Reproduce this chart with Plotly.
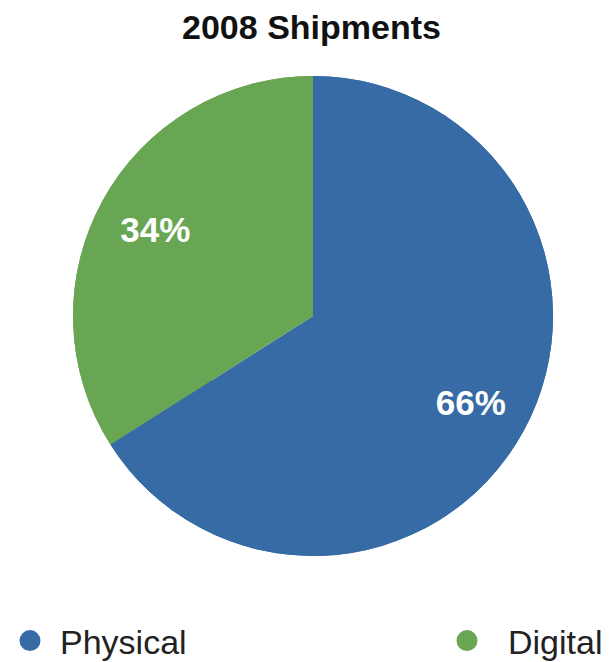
import plotly.graph_objects as go

labels = ["Physical", "Digital"]
values = [66, 34]
colors = ["#376ba6", "#68a653"]
title_text = "2008 Shipments"
FONT = "Liberation Sans, Arial, sans-serif"

fig = go.Figure()
# full pie (no text)
fig.add_trace(go.Pie(
    labels=labels, values=values, sort=False, direction="clockwise", rotation=0,
    marker=dict(colors=colors, line=dict(width=0)),
    textinfo="none", showlegend=False, hoverinfo="skip",
))
# ring on top carries the labels at ~3/4 radius
fig.add_trace(go.Pie(
    labels=labels, values=values, sort=False, direction="clockwise", rotation=0,
    hole=0.5,
    marker=dict(colors=colors, line=dict(width=0)),
    texttemplate="%{percent:.0%}",
    textposition="inside",
    insidetextorientation="horizontal",
    textfont=dict(family=FONT, size=35, color="white", weight="bold"),
    showlegend=False,
    hoverinfo="label+percent",
))
legend_names = ["legend", "legend2"]
for lab, col, lg in zip(labels, colors, legend_names):
    fig.add_trace(go.Scatter(
        x=[None], y=[None], mode="markers", name=lab, legend=lg,
        marker=dict(symbol="circle", size=16, color=col, line=dict(width=5, color=col)),
        showlegend=True,
    ))

legend_common = dict(orientation="h", xref="container", yref="container",
                     yanchor="middle", xanchor="left",
                     font=dict(family=FONT, size=34, color="#222222"),
                     bgcolor="rgba(0,0,0,0)")
fig.update_layout(
    width=610, height=662,
    paper_bgcolor="white", plot_bgcolor="white",
    margin=dict(l=73, r=57, t=76, b=106, autoexpand=False),
    title=dict(text=title_text, x=311.5 / 610, xref="container", y=1 - 27 / 662, yref="container",
               xanchor="center", yanchor="middle",
               font=dict(family=FONT, size=34, color="#111111", weight="bold")),
    xaxis=dict(visible=False), yaxis=dict(visible=False),
    legend=dict(x=0, y=1 - 641 / 662, itemwidth=50, **legend_common),
    legend2=dict(x=426 / 610, y=1 - 641 / 662, itemwidth=72, **legend_common),
)
fig.write_html("out.html", post_script="document.body.style.margin='0';",
               config={"displayModeBar": False})
